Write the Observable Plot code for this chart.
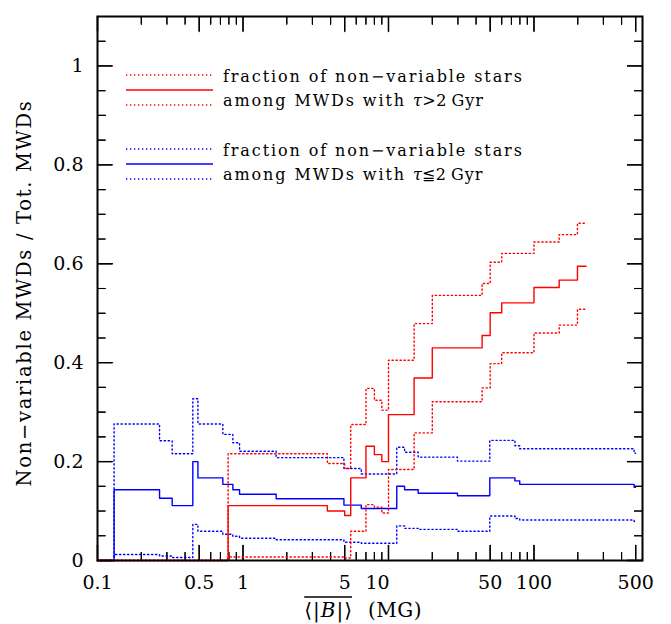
<!DOCTYPE html>
<html>
<head>
<meta charset="utf-8">
<script src="https://cdn.jsdelivr.net/npm/d3@7"></script>
<script src="https://cdn.jsdelivr.net/npm/@observablehq/plot@0.6"></script>
<style>
  html, body { margin: 0; padding: 0; background: #fff; }
  #chart { width: 671px; height: 624px; color: #000; }
</style>
</head>
<body>
<div id="chart"></div>
<script>
// ---- data (step functions: value holds from x[i] to x[i+1]) ----
// MWDs with tau > 2 Gyr (red)
const redX   = [0.1, 0.79, 3.8, 5.0, 5.5, 7.0, 8.0, 9.0, 10.0, 15.0, 20.0, 44.0, 50.0, 60.0, 100, 149, 199, 228];
const redMid = [0, 0.111, 0.100, 0.091, 0.167, 0.231, 0.214, 0.200, 0.295, 0.369, 0.430, 0.455, 0.501, 0.521, 0.552, 0.567, 0.595, 0.595];
const redHi  = [0, 0.216, 0.196, 0.186, 0.275, 0.348, 0.324, 0.304, 0.405, 0.479, 0.536, 0.560, 0.603, 0.621, 0.644, 0.659, 0.682, 0.682];
const redLo  = [0, 0.007, 0.007, 0.005, 0.059, 0.113, 0.108, 0.096, 0.184, 0.258, 0.321, 0.349, 0.398, 0.420, 0.460, 0.476, 0.508, 0.508];
// MWDs with tau <= 2 Gyr (blue)
const blueX   = [0.1, 0.13, 0.267, 0.326, 0.452, 0.49, 0.727, 0.852, 0.947, 1.69, 4.94, 6.5, 11.4, 12.9, 16.0, 29.8, 49.7, 74.0, 79.8, 488, 499];
const blueMid = [0, 0.143, 0.126, 0.111, 0.200, 0.167, 0.154, 0.143, 0.134, 0.125, 0.112, 0.105, 0.150, 0.143, 0.136, 0.131, 0.167, 0.161, 0.154, 0.148, 0.148];
const blueHi  = [0, 0.276, 0.242, 0.216, 0.327, 0.276, 0.255, 0.238, 0.221, 0.208, 0.186, 0.175, 0.229, 0.219, 0.209, 0.201, 0.243, 0.232, 0.226, 0.217, 0.217];
const blueLo  = [0, 0.012, 0.009, 0.006, 0.073, 0.059, 0.053, 0.049, 0.045, 0.042, 0.037, 0.035, 0.070, 0.065, 0.063, 0.059, 0.090, 0.085, 0.082, 0.079, 0.079];

// ---- ticks and labels ----
const xMajorTicks = [0.1, 0.5, 1, 5, 10, 50, 100, 500];
const xTickLabels = ["0.1", "0.5", "1", "5", "10", "50", "100", "500"];
const xMinorTicks = [0.2, 0.3, 0.4, 0.6, 0.7, 0.8, 0.9, 2, 3, 4, 6, 7, 8, 9, 20, 30, 40, 60, 70, 80, 90, 200, 300, 400];
const yMajorTicks = [0, 0.2, 0.4, 0.6, 0.8, 1];
const yTickLabels = ["0", "0.2", "0.4", "0.6", "0.8", "1"];
const yMinorTicks = [0.05, 0.1, 0.15, 0.25, 0.3, 0.35, 0.45, 0.5, 0.55, 0.65, 0.7, 0.75, 0.85, 0.9, 0.95, 1.05];
const xDomain = [0.1, 557];
const yDomain = [0, 1.1];

const yTitle = "Non\u2212variable MWDs / Tot. MWDs";
const xTitleVar = ["\u27E8|", "B", "|\u27E9"];
const xTitleUnit = "(MG)";
const legendLine1 = "fraction of non\u2212variable stars";
const legendLine2 = "among MWDs with ";
const legendRedCond = [">", "2"];
const legendBlueCond = ["\u2266", "2"];
const legendUnit = "Gyr";

const RED = "#ff0000", BLUE = "#0000ff";
const FONT = "DejaVu Serif, serif";

// ---- layout ----
const W = 671, H = 624, ML = 97, MR = 29, MT = 16, MB = 64;
const PW = W - ML - MR, PH = H - MT - MB;
const MAJOR = 15, MINOR = 8;

function table(xs, ys) { return xs.map((x, i) => ({x, y: ys[i]})); }

const solid = {x: "x", y: "y", curve: "step-after", strokeWidth: 1.4};
const dotted = {x: "x", y: "y", curve: "step-after", strokeWidth: 1.4, strokeDasharray: "1.3,2.7"};

const xIdx = xMajorTicks.map((d, i) => i);
const yIdx = yMajorTicks.map((d, i) => i);

// straight tick shape for vector marks (drawn from the anchor point along the vector)
const tickShape = {draw(context, l) { context.moveTo(0, 0); context.lineTo(0, -l); }};
function inwardTicks(values, axis, side, length, strokeWidth) {
  const o = {length, anchor: "start", shape: tickShape, stroke: "black", strokeWidth};
  if (axis === "x") {
    return Plot.vector(values, {...o, x: d => d, y: () => (side === "bottom" ? yDomain[0] : yDomain[1]), rotate: side === "bottom" ? 0 : 180});
  }
  return Plot.vector(values, {...o, y: d => d, x: () => (side === "left" ? xDomain[0] : xDomain[1]), rotate: side === "left" ? 90 : -90});
}

const plot = Plot.plot({
  width: W,
  height: H,
  marginLeft: ML,
  marginRight: MR,
  marginTop: MT,
  marginBottom: MB,
  style: {fontFamily: FONT, fontSize: "19px"},
  x: {type: "log", domain: xDomain, axis: null},
  y: {domain: yDomain, axis: null},
  marks: [
    // inward ticks on all four sides
    Plot.tickX(xMajorTicks, {x: d => d, insetTop: PH - MAJOR, strokeWidth: 1.3, stroke: "black"}),
    Plot.tickX(xMinorTicks, {x: d => d, insetTop: PH - MINOR, strokeWidth: 1.1, stroke: "black"}),
    Plot.tickX(xMajorTicks, {x: d => d, insetBottom: PH - MAJOR, strokeWidth: 1.3, stroke: "black"}),
    Plot.tickX(xMinorTicks, {x: d => d, insetBottom: PH - MINOR, strokeWidth: 1.1, stroke: "black"}),
    Plot.tickY(yMajorTicks, {y: d => d, insetRight: PW - MAJOR, strokeWidth: 1.3, stroke: "black"}),
    Plot.tickY(yMinorTicks, {y: d => d, insetRight: PW - MINOR, strokeWidth: 1.1, stroke: "black"}),
    Plot.tickY(yMajorTicks, {y: d => d, insetLeft: PW - MAJOR, strokeWidth: 1.3, stroke: "black"}),
    Plot.tickY(yMinorTicks, {y: d => d, insetLeft: PW - MINOR, strokeWidth: 1.1, stroke: "black"}),
    inwardTicks(xMajorTicks, "x", "bottom", MAJOR, 1.3),
    inwardTicks(xMinorTicks, "x", "bottom", MINOR, 1.1),
    inwardTicks(xMajorTicks, "x", "top", MAJOR, 1.3),
    inwardTicks(xMinorTicks, "x", "top", MINOR, 1.1),
    inwardTicks(yMajorTicks, "y", "left", MAJOR, 1.3),
    inwardTicks(yMinorTicks, "y", "left", MINOR, 1.1),
    inwardTicks(yMajorTicks, "y", "right", MAJOR, 1.3),
    inwardTicks(yMinorTicks, "y", "right", MINOR, 1.1),
    // blue (tau <= 2 Gyr)
    Plot.line(table(blueX, blueLo), {...dotted, stroke: BLUE}),
    Plot.line(table(blueX, blueHi), {...dotted, stroke: BLUE}),
    Plot.line(table(blueX, blueMid), {...solid, stroke: BLUE}),
    // red (tau > 2 Gyr)
    Plot.line(table(redX, redLo), {...dotted, stroke: RED}),
    Plot.line(table(redX, redHi), {...dotted, stroke: RED}),
    Plot.line(table(redX, redMid), {...solid, stroke: RED}),
    // tick labels
    Plot.text(xIdx.filter(i => xMajorTicks[i] !== 10), {x: i => xMajorTicks[i], text: i => xTickLabels[i], frameAnchor: "bottom", lineAnchor: "top", dy: 15, fontSize: 19, fill: "black"}),
    Plot.text(xIdx.filter(i => xMajorTicks[i] === 10), {x: i => xMajorTicks[i], text: i => xTickLabels[i], frameAnchor: "bottom", lineAnchor: "top", dy: 15, dx: -11, fontSize: 19, fill: "black"}),
    Plot.text(yIdx, {y: i => yMajorTicks[i], text: i => yTickLabels[i], frameAnchor: "left", textAnchor: "end", dx: -14, fontSize: 19, fill: "black"}),
    Plot.frame({stroke: "black", strokeWidth: 2})
  ]
});

document.getElementById("chart").appendChild(plot);

// ---- titles and legend, drawn inside the same SVG ----
const svg = d3.select(plot);
const deco = svg.append("g")
  .attr("font-family", FONT)
  .attr("fill", "black")
  .attr("text-anchor", "start");

// y-axis title
deco.append("text")
  .attr("transform", "translate(30.5,293) rotate(-90)")
  .attr("text-anchor", "middle")
  .attr("font-size", 19.5)
  .attr("letter-spacing", 1.7)
  .text(yTitle);

// x-axis title: overline <|B|>  (MG)
const tVar = deco.append("text")
  .attr("x", 353).attr("y", 617)
  .attr("text-anchor", "end")
  .attr("font-size", 20)
  .attr("letter-spacing", 1);
tVar.append("tspan").text(xTitleVar[0]);
tVar.append("tspan").attr("font-style", "italic").text(xTitleVar[1]);
tVar.append("tspan").text(xTitleVar[2]);
deco.append("text")
  .attr("x", 368).attr("y", 617)
  .attr("text-anchor", "start")
  .attr("font-size", 20)
  .attr("letter-spacing", 0.5)
  .text(xTitleUnit);
const bb = tVar.node().getBBox();
deco.append("line")
  .attr("x1", bb.x).attr("x2", bb.x + bb.width - 1)
  .attr("y1", 597).attr("y2", 597)
  .attr("stroke", "black").attr("stroke-width", 1.3);

// legend (inside the frame, top-left)
function legLine(y, color, dash) {
  const l = deco.append("line")
    .attr("x1", 126).attr("x2", 213)
    .attr("y1", y).attr("y2", y)
    .attr("stroke", color).attr("stroke-width", 1.4);
  if (dash) l.attr("stroke-dasharray", "1.3,2.7");
}
function legText(y, parts) {
  const t = deco.append("text")
    .attr("x", 223).attr("y", y)
    .attr("text-anchor", "start")
    .attr("font-size", 16);
  for (const [str, ls, extra] of parts) {
    const s = t.append("tspan").attr("letter-spacing", ls).text(str);
    if (extra) for (const k in extra) s.attr(k, extra[k]);
  }
}
function condParts(cond) {
  return [[legendLine2, 1.9], ["\u03C4", 0.5, {"font-style": "italic"}], [cond[0], 0.5], [cond[1], 0], [legendUnit, 1, {dx: 5}]];
}
legLine(75, RED, true); legLine(90, RED, false); legLine(105, RED, true);
legText(81.5, [[legendLine1, 1.9]]); legText(105.5, condParts(legendRedCond));
legLine(149, BLUE, true); legLine(164, BLUE, false); legLine(179, BLUE, true);
legText(155.5, [[legendLine1, 1.9]]); legText(179.5, condParts(legendBlueCond));
</script>
</body>
</html>
